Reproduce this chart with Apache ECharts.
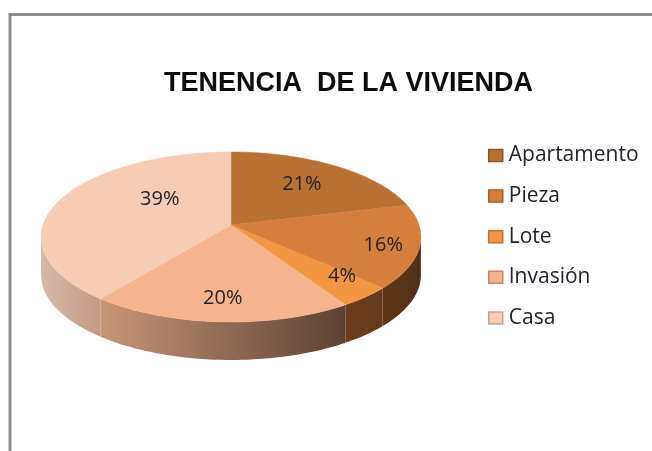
<!DOCTYPE html>
<html><head><meta charset="utf-8">
<style>html,body{margin:0;padding:0;background:#fff}#c{width:652px;height:451px;filter:blur(0.45px)}</style>
<script src="https://cdn.jsdelivr.net/npm/echarts@6/dist/echarts.min.js"></script>
</head><body><div id="c"></div>
<script>
const titleText = 'TENENCIA  DE LA VIVIENDA';
const categories = ['Apartamento', 'Pieza', 'Lote', 'Invasión', 'Casa'];
const values = [21, 16, 4, 19.6, 39.4];
const topColors = ['#b87033', '#d67f3c', '#f29643', '#f5b48e', '#f6ccb5'];
const wallFrom = ['#6b3e1c', '#5e3616', '#6a3c1c', '#c79678', '#d6b8a7'];
const wallTo = ['#6b3e1c', '#4f3018', '#653a1c', '#5d4132', '#c49b85'];
const legendEdges = ['#8a5426', '#a4602c', '#c0742f', '#bd8a6e', '#c4a595'];
const labelReach = [0.66, 0.817, 0.783, 0.78, 0.51];
const labelTurn = [0, 2, -4.4, 0, 20];

// tilted-disc projection
const cx = 231, cy = 225, B = 188, A = 83.3, K = 0.141, DEPTH = 38;
const project = (deg, r) => {
  const t = deg * Math.PI / 180, X = r * Math.sin(t), Z = r * Math.cos(t), d = 1 + K * Z;
  return [cx + B * X / d, cy - A * Z / d];
};
const total = values.reduce((a, b) => a + b, 0);
const starts = [];
values.reduce((s, v, i) => { starts[i] = s; return s + v; }, 0);
const range = i => [starts[i] / total * 360, (starts[i] + values[i]) / total * 360];
const rim = (a, b) => {
  const pts = [], n = Math.max(2, Math.ceil((b - a) / 1.5));
  for (let j = 0; j <= n; j++) pts.push(project(a + (b - a) * j / n, 1));
  return pts;
};
const sideA = Math.acos(-K) * 180 / Math.PI, sideB = 360 - sideA;

const wallSeries = categories.map((name, i) => ({
  type: 'custom', name: 'lado ' + name, coordinateSystem: 'none', z: 1, silent: true,
  data: [[values[i]]],
  renderItem: () => {
    const [a0, b0] = range(i), a = Math.max(a0, sideA), b = Math.min(b0, sideB);
    if (b <= a) return { type: 'group', children: [] };
    const up = rim(a, b), down = up.map(p => [p[0], p[1] + DEPTH]).reverse();
    return { type: 'polygon', shape: { points: up.concat(down) }, style: {
      fill: new echarts.graphic.LinearGradient(0, 0, 1, 0, [
        { offset: 0, color: wallFrom[i] }, { offset: 1, color: wallTo[i] }]) } };
  }
}));
const topSeries = categories.map((name, i) => ({
  type: 'custom', name, coordinateSystem: 'none', z: 2, silent: true,
  itemStyle: { color: topColors[i] },
  data: [[values[i]]],
  renderItem: () => {
    const [a, b] = range(i), p = project((a + b) / 2 + labelTurn[i], labelReach[i]);
    return { type: 'group', children: [
      { type: 'polygon', shape: { points: [[cx, cy]].concat(rim(a, b)) },
        style: { fill: topColors[i], stroke: topColors[i], lineWidth: 0.5 } },
      { type: 'text', z2: 10, style: { text: Math.round(values[i]) + '%', x: p[0], y: p[1],
        align: 'center', verticalAlign: 'middle', fill: '#20232b', font: '20px "Open Sans"' } }
    ] };
  }
}));

echarts.init(document.getElementById('c')).setOption({
  animation: false, backgroundColor: '#fff',
  title: { text: titleText, left: 164, top: 70, padding: 0,
    textStyle: { fontFamily: 'Liberation Sans', fontWeight: 'bold', fontSize: 27, color: '#0d0d0d' } },
  legend: { orient: 'vertical', left: 488, top: 145, padding: 0, itemWidth: 14, itemHeight: 12, itemGap: 19.6,
    selectedMode: false, icon: 'rect',
    textStyle: { fontFamily: 'Open Sans', fontSize: 21, color: '#20232b', padding: [0, 0, 0, 1] },
    data: categories.map((name, i) => ({ name, itemStyle: { color: topColors[i], borderColor: legendEdges[i], borderWidth: 1.5 } })) },
  graphic: [{ type: 'polyline', silent: true,
    shape: { points: [[10, 451], [10, 14.5], [652, 14.5]] },
    style: { fill: 'none', stroke: '#8c8c8c', lineWidth: 3 } }],
  series: wallSeries.concat(topSeries)
});
</script></body></html>
